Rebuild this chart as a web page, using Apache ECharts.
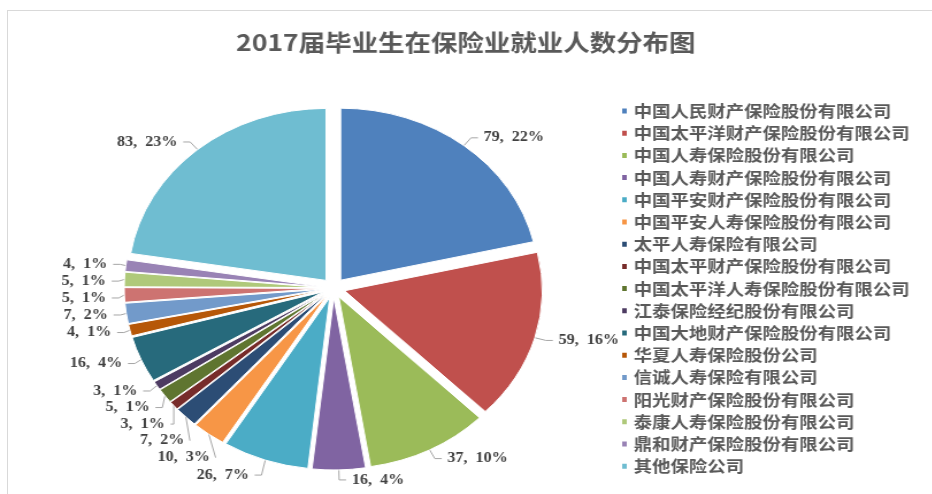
<!DOCTYPE html>
<html>
<head>
<meta charset="utf-8">
<script src="https://cdn.jsdelivr.net/npm/echarts@6/dist/echarts.min.js"></script>
<style>
html, body { margin: 0; padding: 0; background: #fff; }
.frame {
    position: absolute;
    left: 7px;
    top: 10px;
    width: 925px;
    height: 484px;
    border-top: 1px solid #d9d9d9;
    border-left: 1px solid #d9d9d9;
}
/* 原图被横向拉宽过，这里整体横向拉伸 */
#chart {
    position: absolute;
    left: 0;
    top: 0;
    width: 810px;
    height: 494px;
    transform: scaleX(1.15);
    transform-origin: 0 0;
}
</style>
</head>
<body>
<div class="frame"></div>
<div id="chart"></div>
<script>
// 公司名称
const companies = [
    '中国人民财产保险股份有限公司',
    '中国太平洋财产保险股份有限公司',
    '中国人寿保险股份有限公司',
    '中国人寿财产保险股份有限公司',
    '中国平安财产保险股份有限公司',
    '中国平安人寿保险股份有限公司',
    '太平人寿保险有限公司',
    '中国太平财产保险股份有限公司',
    '中国太平洋人寿保险股份有限公司',
    '江泰保险经纪股份有限公司',
    '中国大地财产保险股份有限公司',
    '华夏人寿保险股份公司',
    '信诚人寿保险有限公司',
    '阳光财产保险股份有限公司',
    '泰康人寿保险股份有限公司',
    '鼎和财产保险股份有限公司',
    '其他保险公司'
];
// 就业人数
const counts = [79, 59, 37, 16, 26, 10, 7, 3, 5, 3, 16, 4, 7, 5, 5, 4, 83];
// 图上标注的百分比
const percents = [22, 16, 10, 4, 7, 3, 2, 1, 1, 1, 4, 1, 2, 1, 1, 1, 23];
const colors = [
    '#4F81BD', '#C0504D', '#9BBB59', '#8064A2', '#4BACC6', '#F79646',
    '#2C4D75', '#772C2A', '#5F7530', '#4D3B62', '#276A7C', '#B65708',
    '#729ACA', '#CD7371', '#AFC97A', '#9983B5', '#6FBDD1'
];

let chart = echarts.init(document.getElementById('chart'));

let option = {
    animation: false,
    color: colors,
    title: {
        text: '2017届毕业生在保险业就业人数分布图',
        left: 'center',
        top: 26,
        textStyle: {
            color: '#595959',
            fontSize: 23,
            fontWeight: 'bold',
            fontFamily: 'Noto Sans CJK SC'
        }
    },
    legend: {
        orient: 'vertical',
        left: 534,
        top: 98,
        icon: 'rect',
        itemWidth: 6,
        itemHeight: 7,
        itemGap: 6.2,
        selectedMode: false,
        textStyle: {
            color: '#595959',
            fontSize: 16,
            fontWeight: 'bold',
            fontFamily: 'Noto Sans CJK SC'
        },
        data: companies
    },
    series: [
        {
            type: 'pie',
            center: [290, 288],
            radius: [0, 172],
            startAngle: 90,
            selectedMode: 'multiple',
            selectedOffset: 10,
            emphasis: { disabled: true },
            itemStyle: {
                borderColor: '#fff',
                borderWidth: 1
            },
            label: {
                formatter: (p) => p.value + ',  ' + percents[p.dataIndex] + '%',
                color: '#404040',
                fontSize: 14,
                fontWeight: 'bold',
                fontFamily: 'Liberation Serif'
            },
            labelLine: {
                length: 10,
                length2: 6,
                lineStyle: {
                    color: '#a6a6a6',
                    width: 1
                }
            },
            data: companies.map((name, i) => ({
                name: name,
                value: counts[i],
                selected: true
            }))
        }
    ]
};
chart.setOption(option);
</script>
</body>
</html>
